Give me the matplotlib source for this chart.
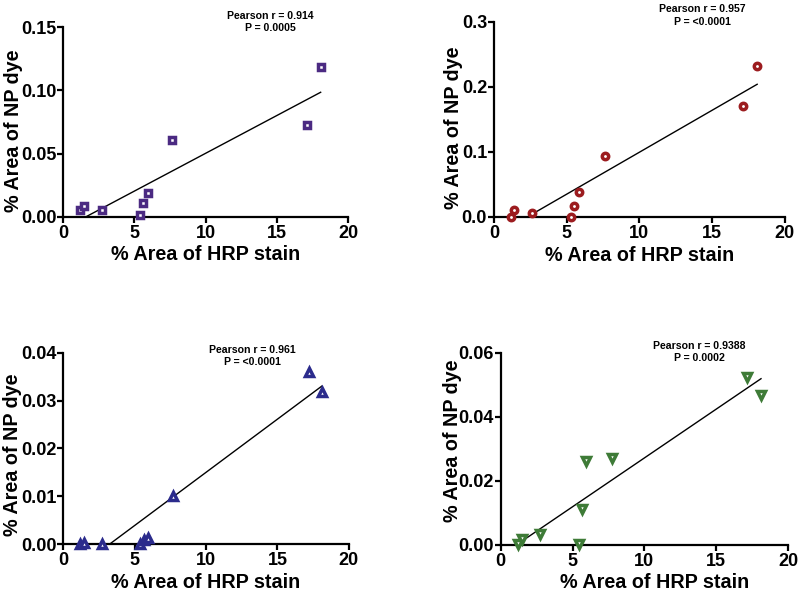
import numpy as np
import matplotlib
matplotlib.use('Agg')
import matplotlib.pyplot as plt

plt.rcParams['font.family'] = ['Liberation Sans', 'DejaVu Sans']
plt.rcParams['font.weight'] = 'bold'

# Data
hrp_a = [1.17, 1.45, 2.69, 5.40, 5.61, 5.92, 7.67, 17.15, 18.08]
dye_a = [0.0053, 0.0087, 0.0058, 0.0018, 0.0113, 0.0190, 0.0605, 0.0729, 0.1187]

hrp_b = [1.15, 1.38, 2.61, 5.32, 5.53, 5.85, 7.66, 17.10, 18.10]
dye_b = [0.000, 0.0113, 0.0062, 0.000, 0.0174, 0.038, 0.094, 0.170, 0.232]

hrp_c = [1.21, 1.45, 2.70, 5.41, 5.65, 5.95, 7.70, 17.18, 18.11]
dye_c = [0.0, 0.0002, 0.0, 0.0, 0.0008, 0.0013, 0.0101, 0.0359, 0.0318]

hrp_d = [1.20, 1.48, 2.71, 5.45, 5.65, 5.96, 7.72, 17.17, 18.12]
dye_d = [0.0003, 0.0017, 0.0035, 0.0002, 0.0113, 0.0263, 0.0270, 0.0525, 0.0469]

stats = [
    'Pearson r = 0.914\nP = 0.0005',
    'Pearson r = 0.957\nP = <0.0001',
    'Pearson r = 0.961\nP = <0.0001',
    'Pearson r = 0.9388\nP = 0.0002',
]
y_max = [0.15, 0.3, 0.04, 0.06]
y_step = [0.05, 0.1, 0.01, 0.02]
y_fmt = ['%.2f', '%.1f', '%.2f', '%.2f']

panels = [
    (hrp_a, dye_a, 's', '#4b2a82', 5.0),
    (hrp_b, dye_b, 'o', '#9c1c1f', 4.6),
    (hrp_c, dye_c, '^', '#2b2b8c', 5.6),
    (hrp_d, dye_d, 'v', '#3e7b37', 5.6),
]

# axes boxes [left, bottom, width, height]
boxes = [
    [0.079, 0.633, 0.356, 0.321],
    [0.6175, 0.633, 0.3635, 0.330],
    [0.079, 0.0795, 0.357, 0.3235],
    [0.626, 0.078, 0.359, 0.325],
]
# label positions in axes coords, stats text centre in pixels
ylab_xy = [(-0.140, 0.455), (-0.1065, 0.456), (-0.143, 0.466), (-0.136, 0.54)]
xlab_xy = [(0.5, -0.15), (0.5, -0.15), (0.5, -0.15), (0.537, -0.145)]
text_pos = [(270, 22), (702, 15.5), (252, 356), (699, 352)]

fig = plt.figure(figsize=(8, 5.91), dpi=100)

for i, (x, y, mk, col, ms) in enumerate(panels):
    ax = fig.add_axes(boxes[i])
    x = np.array(x)
    y = np.array(y)

    # linear regression line over the data range
    slope, icpt = np.polyfit(x, y, 1)
    xl = np.linspace(x.min(), x.max(), 50)
    ax.plot(xl, slope * xl + icpt, color='black', linewidth=1.0, zorder=2)

    ax.plot(x, y, linestyle='none', marker=mk, markersize=ms,
            markerfacecolor='white', markeredgecolor=col,
            markeredgewidth=2.5, zorder=3, clip_on=False)

    ax.set_xlim(0, 20)
    ax.set_ylim(0, y_max[i])
    ax.set_xticks([0, 5, 10, 15, 20])
    ax.set_yticks(np.arange(0, y_max[i] + y_step[i] / 2, y_step[i]))
    ax.yaxis.set_major_formatter(matplotlib.ticker.FormatStrFormatter(y_fmt[i]))

    for s in ['top', 'right']:
        ax.spines[s].set_visible(False)
    for s in ['left', 'bottom']:
        ax.spines[s].set_linewidth(1.6)
    ax.tick_params(direction='out', length=4.5, width=1.6, labelsize=13)
    ax.tick_params(axis='y', pad=0.5)
    ax.tick_params(axis='x', pad=1.5)
    for lbl in ax.get_xticklabels() + ax.get_yticklabels():
        lbl.set_fontweight('bold')

    ax.set_xlabel('% Area of HRP stain', fontsize=14.2, fontweight='bold')
    ax.set_ylabel('% Area of NP dye', fontsize=14.2, fontweight='bold')
    ax.xaxis.set_label_coords(*xlab_xy[i])
    ax.yaxis.set_label_coords(*ylab_xy[i])

    tx, ty = text_pos[i]
    fig.text(tx / 800, 1 - ty / 591, stats[i], ha='center', va='center',
             fontsize=7.6, fontweight='bold', linespacing=1.3)

fig.savefig('out.png', dpi=100)
